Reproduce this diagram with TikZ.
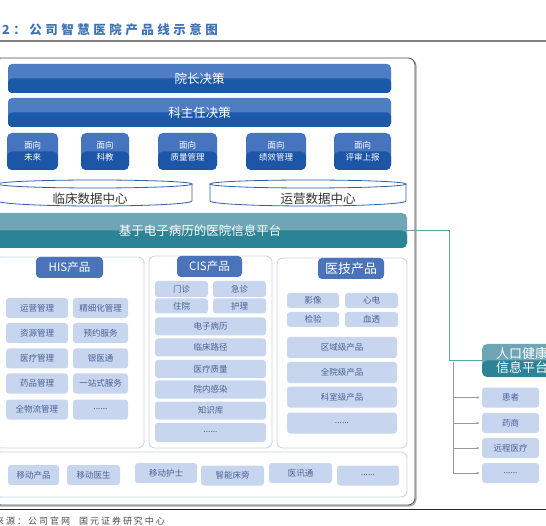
\documentclass[tikz,border=0pt]{standalone}
\usepackage{fontspec}
\setmainfont{Noto Sans CJK SC}
\usepackage{xcolor}
\usepackage{tikz}
\usetikzlibrary{positioning,arrows.meta,calc}

\definecolor{barTop}{HTML}{4F7DC4}
\definecolor{barBot}{HTML}{1B58A8}
\definecolor{faceTop}{HTML}{4674BE}
\definecolor{faceBot}{HTML}{1D56A6}
\definecolor{tealTop}{HTML}{6FA6B6}
\definecolor{tealBot}{HTML}{2B8395}
\definecolor{itemFill}{HTML}{C7D6EE}
\definecolor{itemText}{HTML}{4C5F95}
\definecolor{labelFill}{HTML}{4A73BA}
\definecolor{panelLine}{HTML}{CBD6E8}
\definecolor{dbLine}{HTML}{2F5EAD}
\definecolor{linkTeal}{HTML}{5BA8A3}
\definecolor{titleBlue}{HTML}{3E72B5}

\begin{document}
\begin{tikzpicture}[x=1pt, y=-1pt, every node/.style={align=center, inner sep=0pt},
  twotone/.style 2 args={rounded corners=4pt, fill=#1,
    path picture={\fill[#2] (path picture bounding box.west) rectangle (path picture bounding box.south east);}},
  bar/.style={twotone={barTop}{barBot}, text=white, font=\fontsize{12.5}{13}\selectfont, minimum width=383, minimum height=29},
  face/.style={twotone={faceTop}{faceBot}, rounded corners=5pt, text=white, font=\fontsize{8.5}{12}\selectfont, minimum height=37},
  dbtext/.style={text=black!80, font=\fontsize{12.5}{13}\selectfont},
  db/.style={draw=dbLine, line width=0.8pt},
  panel/.style={draw=panelLine, line width=0.9pt, rounded corners=6pt, fill=white},
  tag/.style={fill=labelFill, rounded corners=4pt, text=white, font=\fontsize{11.5}{12}\selectfont, minimum height=21},
  item/.style={fill=itemFill, rounded corners=3pt, text=itemText, font=\fontsize{8.5}{9}\selectfont, minimum height=20},
  link/.style={draw=linkTeal, line width=0.9pt},
  branch/.style={draw=black!40, line width=0.7pt, -{Latex[length=3pt,width=2.5pt]}, shorten >=2pt}]
\useasboundingbox (0,0) rectangle (546,526);
\clip (0,0) rectangle (546,526);

% heading and rules
\node[anchor=west, text=titleBlue, font=\fontsize{12.5}{13}\selectfont\bfseries\addfontfeature{LetterSpace=28}] (title) at (2,30) {2：公司智慧医院产品线示意图};
\draw[black!50, line width=1.4pt] (0,41) -- (546,41);
\draw[black!85, line width=0.8pt] (0,509) -- (546,509);
\node[anchor=west, text=black!70, font=\fontsize{9}{10}\selectfont\addfontfeature{LetterSpace=22}] (source) at (-5,521) {来源：公司官网\quad 国元证券研究中心};

% outer frame
\node[draw=black!35, line width=1.2pt, rounded corners=7pt, minimum width=421, minimum height=447] (shadow) at (205.5,282.5) {};
\node[draw=black!70, line width=0.8pt, fill=white, rounded corners=7pt, minimum width=421, minimum height=447] (frame) at (204.5,281.5) {};

% decision layers
\node[bar] (dean) at (199.5,78.5) {院长决策};
\node[bar] (director) at (199.5,112.5) {科主任决策};
\node[face, minimum width=51] (f1) at (32.5,151.5) {面向\\未来};
\node[face, minimum width=48] (f2) at (105,151.5) {面向\\科教};
\node[face, minimum width=59] (f3) at (187.5,151.5) {面向\\质量管理};
\node[face, minimum width=60] (f4) at (276,151.5) {面向\\绩效管理};
\node[face, minimum width=57] (f5) at (362.5,151.5) {面向\\评审上报};

% data centres
\draw[db] (-2,184) -- (-2,201) arc[start angle=180, end angle=0, x radius=97, y radius=5] -- (192,184);
\draw[db] (95,184) ellipse[x radius=97, y radius=4];
\node[dbtext] (clinical) at (90,199) {临床数据中心};
\draw[db] (210,184) -- (210,201) arc[start angle=180, end angle=0, x radius=98, y radius=5] -- (406,184);
\draw[db] (308,184) ellipse[x radius=98, y radius=4];
\node[dbtext] (operation) at (318,199) {运营数据中心};

% platform
\node[twotone={tealTop}{tealBot}, rounded corners=5pt, minimum width=412, minimum height=35] (platform) at (201,230.5) {};
\node[text=white, font=\fontsize{12.5}{13}\selectfont] (platformtext) at (200,230.5) {基于电子病历的医院信息平台};

% HIS
\node[panel, minimum width=149, minimum height=191] (his) at (69.5,352.5) {};
\node[tag, minimum width=67] (histag) at (69.5,267.5) {HIS产品};
\node[item, minimum width=62] (h1) at (37,308) {运营管理};
\node[item, minimum width=62] (h2) at (37,333) {资源管理};
\node[item, minimum width=62] (h3) at (37,358.5) {医疗管理};
\node[item, minimum width=62] (h4) at (37,383.5) {药品管理};
\node[item, minimum width=62] (h5) at (37,409.5) {全物流管理};
\node[item, minimum width=55] (h6) at (100.5,308) {精细化管理};
\node[item, minimum width=55] (h7) at (100.5,333) {预约服务};
\node[item, minimum width=55] (h8) at (100.5,358.5) {银医通};
\node[item, minimum width=55] (h9) at (100.5,383.5) {一站式服务};
\node[item, minimum width=55] (h10) at (100.5,409.5) {......};

% CIS
\node[panel, minimum width=123, minimum height=192] (cis) at (210.5,352) {};
\node[tag, minimum width=65] (cistag) at (209.5,266.5) {CIS产品};
\node[item, minimum width=53, minimum height=16] (c1) at (181.5,289) {门诊};
\node[item, minimum width=53, minimum height=16] (c2) at (239.5,289) {急诊};
\node[item, minimum width=53, minimum height=15] (c3) at (181.5,306) {住院};
\node[item, minimum width=53, minimum height=15] (c4) at (239.5,306) {护理};
\node[item, minimum width=111, minimum height=18] (c5) at (210.5,326.5) {电子病历};
\node[item, minimum width=111, minimum height=18] (c6) at (210.5,347.5) {临床路径};
\node[item, minimum width=111, minimum height=18] (c7) at (210.5,369) {医疗质量};
\node[item, minimum width=111, minimum height=18] (c8) at (210.5,389.5) {院内感染};
\node[item, minimum width=111, minimum height=18] (c9) at (210.5,410.5) {知识库};
\node[item, minimum width=111, minimum height=19] (c10) at (210.5,432.5) {......};

% medical technology
\node[panel, minimum width=130, minimum height=190] (tech) at (342,353) {};
\node[tag, minimum width=66, font=\fontsize{13}{13}\selectfont] (techtag) at (351,268.5) {医技产品};
\node[item, minimum width=52, minimum height=15] (t1) at (313,300.5) {影像};
\node[item, minimum width=53, minimum height=15] (t2) at (371.5,300.5) {心电};
\node[item, minimum width=52, minimum height=15] (t3) at (313,319.5) {检验};
\node[item, minimum width=53, minimum height=15] (t4) at (371.5,319.5) {血透};
\node[item, minimum width=110, minimum height=21] (t5) at (342,347.5) {区域级产品};
\node[item, minimum width=110, minimum height=21] (t6) at (342,372.5) {全院级产品};
\node[item, minimum width=110, minimum height=21] (t7) at (342,397) {科室级产品};
\node[item, minimum width=110, minimum height=21] (t8) at (342,423) {......};

% mobile
\node[panel, minimum width=412, minimum height=45] (mobile) at (201,474.5) {};
\node[item, minimum width=51] (m1) at (33.5,475) {移动产品};
\node[item, minimum width=53] (m2) at (93.5,475) {移动医生};
\node[item, minimum width=62] (m3) at (166,473) {移动护士};
\node[item, minimum width=63] (m4) at (232.5,475.5) {智能床旁};
\node[item, minimum width=63] (m5) at (300.5,473) {医讯通};
\node[item, minimum width=62] (m6) at (368,475.5) {......};

% regional platform
\node[twotone={tealTop}{tealBot}, rounded corners=5pt, anchor=west, minimum width=80, minimum height=33, text=white, font=\fontsize{13}{13.5}\selectfont] (pop) at (482,360.5) {人口健康\\信息平台};
\coordinate (bend) at (449,0);
\draw[link] (platform.east) -| (bend |- pop.west) -- (pop.west);
\node[item, minimum width=57] (p1) at (510.5,397.5) {患者};
\node[item, minimum width=57] (p2) at (510.5,423) {药商};
\node[item, minimum width=57] (p3) at (510.5,448) {远程医疗};
\node[item, minimum width=57] (p4) at (510.5,473) {......};
\coordinate (trunk) at (453,362);
\draw[branch] (trunk) |- (p1.west);
\draw[branch] (trunk) |- (p2.west);
\draw[branch] (trunk) |- (p3.west);
\draw[branch] (trunk) |- (p4.west);
\end{tikzpicture}
\end{document}
